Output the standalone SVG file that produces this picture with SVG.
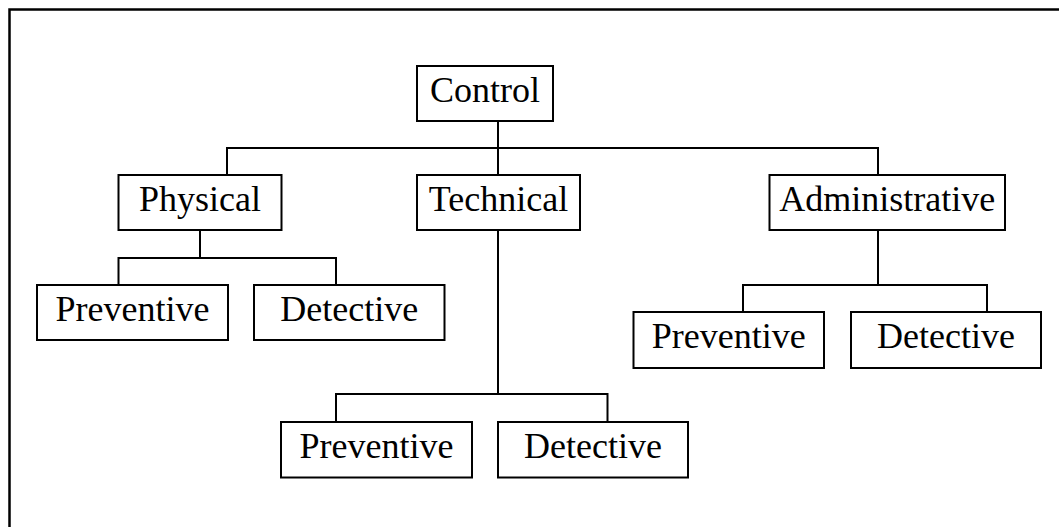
<svg xmlns="http://www.w3.org/2000/svg" width="1059" height="527" viewBox="0 0 1059 527">
  <style>
    .box { fill: #fff; stroke: #000; stroke-width: 2; }
    .lbl { font-family: "Liberation Serif", "Times New Roman", serif; font-size: 36px; fill: #000; text-anchor: middle; }
    .wire { fill: none; stroke: #000; stroke-width: 2; }
    .frame { fill: none; stroke: #000; stroke-width: 2.5; }
  </style>
  <rect width="1059" height="527" fill="#fff"/>
  <!-- outer frame: only the top and left edges fall inside the canvas -->
  <path class="frame" d="M9.5 527 V9.5 H1059"/>

  <g id="connectors">
    <path class="wire" d="M498 121 V148 M227 175 V148 H878 V175 M498 148 V175"/>
    <path class="wire" d="M200 230 V258 M118.5 285 V258 H336 V285"/>
    <path class="wire" d="M498 230 V394 M336 422 V394 H607.5 V422"/>
    <path class="wire" d="M878 230 V285 M743 312 V285 H987 V312"/>
  </g>

  <g id="control">
    <rect class="box" x="417" y="66" width="136" height="55"/>
    <text class="lbl" x="485" y="101.5">Control</text>
  </g>
  <g id="physical">
    <rect class="box" x="118.5" y="175" width="163" height="55"/>
    <text class="lbl" x="200" y="210.5">Physical</text>
  </g>
  <g id="technical">
    <rect class="box" x="417" y="175" width="163" height="55"/>
    <text class="lbl" x="498.5" y="210.5">Technical</text>
  </g>
  <g id="administrative">
    <rect class="box" x="769.5" y="175" width="235.5" height="55"/>
    <text class="lbl" x="887.3" y="210.5">Administrative</text>
  </g>
  <g id="physical-preventive">
    <rect class="box" x="37" y="285" width="191" height="55"/>
    <text class="lbl" x="132.5" y="320.5">Preventive</text>
  </g>
  <g id="physical-detective">
    <rect class="box" x="254" y="285" width="190.5" height="55"/>
    <text class="lbl" x="349.3" y="320.5">Detective</text>
  </g>
  <g id="administrative-preventive">
    <rect class="box" x="633.5" y="312" width="190.5" height="56"/>
    <text class="lbl" x="728.8" y="347.5">Preventive</text>
  </g>
  <g id="administrative-detective">
    <rect class="box" x="851" y="312" width="190" height="56"/>
    <text class="lbl" x="946" y="347.5">Detective</text>
  </g>
  <g id="technical-preventive">
    <rect class="box" x="281" y="422" width="191" height="55.5"/>
    <text class="lbl" x="376.5" y="457.5">Preventive</text>
  </g>
  <g id="technical-detective">
    <rect class="box" x="498" y="422" width="190" height="55.5"/>
    <text class="lbl" x="593" y="457.5">Detective</text>
  </g>
</svg>
